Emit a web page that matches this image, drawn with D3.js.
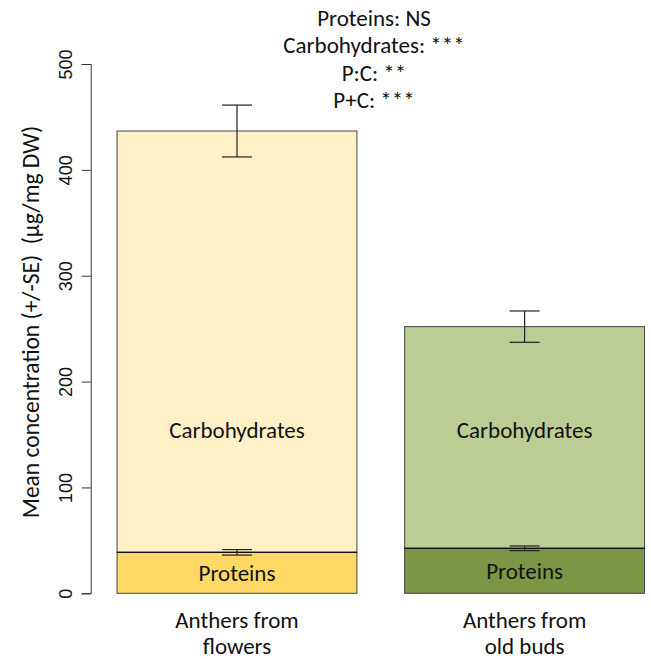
<!DOCTYPE html>
<html><head><meta charset="utf-8">
<script src="https://cdn.jsdelivr.net/npm/d3@7"></script>
<style>body{margin:0;background:#fff}</style>
</head><body>
<svg id="c" width="651" height="659"></svg>
<script>
const groups = ["Anthers from flowers", "Anthers from old buds"];
const groupLines = [["Anthers from", "flowers"], ["Anthers from", "old buds"]];
const proteins = [38.7, 42.5];
const proteinSE = [2.6, 2.2];
const totals = [436.7, 251.9];
const totalSE = [24.5, 14.8];
const carbColors = ["#FFF0C8", "#BBCD95"];
const protColors = ["#FFD966", "#7C9645"];
const yTicks = [0, 100, 200, 300, 400, 500];
const notes = ["Proteins: NS", "Carbohydrates: ***", "P:C: **", "P+C: ***"];

const svg = d3.select("#c");
const y = d3.scaleLinear().domain([0, 500]).range([593.3, 64]);
const x = d3.scaleBand().domain(groups).range([88.3, 673.3]).paddingInner(0.166).paddingOuter(0.1);
const calib = "Carlito, Lato, 'Open Sans', sans-serif";
const fs = "23px";

// y axis
const ax = svg.append("g").attr("transform", "translate(90.7,0)")
  .call(d3.axisLeft(y).tickValues(yTicks).tickSize(9).tickPadding(4));
ax.select(".domain").attr("stroke", "#333");
ax.selectAll(".tick line").attr("stroke", "#333");
ax.selectAll(".tick text").attr("transform", "rotate(-90)").attr("x", 0).attr("y", -19)
  .attr("dy", "0").attr("text-anchor", "middle")
  .style("font-family", "'Liberation Sans', Arial, sans-serif").style("font-size", "18px").attr("fill", "#111");

svg.append("text").attr("transform", "translate(31,322) rotate(-90)")
  .attr("text-anchor", "middle").attr("dy", "0.35em")
  .style("font-family", calib).style("font-size", "23.5px").attr("fill", "#111")
  .style("white-space", "pre")
  .text("Mean concentration (+/-SE)  (\u00b5g/mg DW)");

groups.forEach((g, i) => {
  const x0 = x(g), w = x.bandwidth(), cx = x0 + w / 2;
  svg.append("rect").attr("x", x0).attr("y", y(totals[i])).attr("width", w)
    .attr("height", y(proteins[i]) - y(totals[i])).attr("fill", carbColors[i]).attr("stroke", "#444").attr("stroke-width", 1);
  svg.append("rect").attr("x", x0).attr("y", y(proteins[i])).attr("width", w)
    .attr("height", y(0) - y(proteins[i])).attr("fill", protColors[i]).attr("stroke", "#444").attr("stroke-width", 1);
  svg.append("line").attr("x1", x0).attr("x2", x0 + w).attr("y1", y(proteins[i])).attr("y2", y(proteins[i]))
    .attr("stroke", "#111").attr("stroke-width", 1.2);
  // error bars
  [[totals[i], totalSE[i]], [proteins[i], proteinSE[i]]].forEach(([v, se]) => {
    const e = svg.append("g").attr("stroke", "#222").attr("stroke-width", 1.2);
    e.append("line").attr("x1", cx).attr("x2", cx).attr("y1", y(v + se)).attr("y2", y(v - se));
    e.append("line").attr("x1", cx - 15).attr("x2", cx + 15).attr("y1", y(v + se)).attr("y2", y(v + se));
    e.append("line").attr("x1", cx - 15).attr("x2", cx + 15).attr("y1", y(v - se)).attr("y2", y(v - se));
  });
  svg.append("text").attr("x", cx).attr("y", 430).attr("dy", "0.35em")
    .attr("text-anchor", "middle").style("font-family", calib).style("font-size", fs).attr("fill", "#111")
    .text("Carbohydrates");
  svg.append("text").attr("x", cx).attr("y", y(proteins[i] / 2)).attr("dy", "0.35em")
    .attr("text-anchor", "middle").style("font-family", calib).style("font-size", fs).attr("fill", "#111")
    .text("Proteins");
  groupLines[i].forEach((t, k) => {
    svg.append("text").attr("x", cx).attr("y", 628 + k * 26)
      .attr("text-anchor", "middle").style("font-family", calib).style("font-size", fs).attr("fill", "#111").text(t);
  });
});

notes.forEach((t, k) => {
  svg.append("text").attr("x", 374).attr("y", 26 + k * 27.3).attr("text-anchor", "middle")
    .style("font-family", calib).style("font-size", fs).attr("fill", "#111").text(t);
});
</script>
</body></html>
